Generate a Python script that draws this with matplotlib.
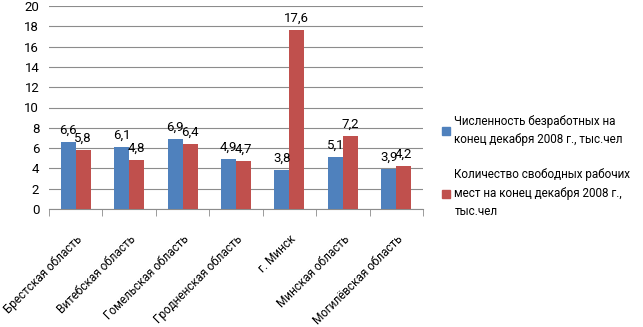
import matplotlib
matplotlib.use("Agg")
import matplotlib.pyplot as plt
import numpy as np
from matplotlib.patches import Rectangle

categories = ["Брестская область", "Витебская область", "Гомельская область",
              "Гродненская область", "г. Минск", "Минская область", "Могилёвская область"]
unemployed = [6.6, 6.1, 6.9, 4.9, 3.8, 5.1, 3.9]
vacancies = [5.8, 4.8, 6.4, 4.7, 17.6, 7.2, 4.2]
series_names = ["Численность безработных на\nконец декабря 2008 г., тыс.чел",
                "Количество свободных рабочих\nмест на конец декабря 2008 г.,\nтыс.чел"]
colors = ["#4F81BD", "#C0504D"]

plt.rcParams['font.family'] = ['Roboto', 'DejaVu Sans']

fig = plt.figure(figsize=(6.43, 3.27), dpi=100)
ax = fig.add_axes([49/643, 1-209/327, (423-49)/643, (209-6)/327])

x = np.arange(len(categories))
w = 0.28
b1 = ax.bar(x - w/2, unemployed, w, color=colors[0], zorder=3)
b2 = ax.bar(x + w/2, vacancies, w, color=colors[1], zorder=3)

for bars, vals in ((b1, unemployed), (b2, vacancies)):
    for r, v in zip(bars, vals):
        ax.annotate(f"{v:.1f}".replace(".", ","), (r.get_x() + r.get_width()/2, v),
                    xytext=(0, 4), textcoords="offset points", ha="center", va="bottom",
                    fontsize=9.5, color="#000000", zorder=4)

ax.set_xlim(-0.5, len(categories) - 0.5)
ax.set_ylim(0, 20)
ax.set_yticks(np.arange(0, 21, 2))
ax.yaxis.grid(True, color="#8c8c8c", linewidth=0.8, zorder=0)
ax.tick_params(axis="y", length=0, labelsize=9.5, pad=7)
for s in ("left", "right", "top"):
    ax.spines[s].set_visible(False)
ax.spines["bottom"].set_color("#8c8c8c")

ax.set_xticks(x)
ax.set_xticklabels(categories, rotation=45, ha="right", rotation_mode="anchor", fontsize=8.5)
ax.tick_params(axis="x", which="major", length=0, pad=17)
ax.set_xticks(np.arange(-0.5, len(categories), 1.0), minor=True)
ax.tick_params(axis="x", which="minor", length=5, color="#8c8c8c")

handles = [Rectangle((0, 0), 1, 1, color=c) for c in colors]
leg = fig.legend(handles, series_names, loc="upper left", bbox_to_anchor=(437/643, 1-110/327),
                 frameon=False, fontsize=8.4, handlelength=0.7, handleheight=0.7,
                 handletextpad=0.4, labelspacing=1.9, borderaxespad=0)
for t in leg.get_texts():
    t.set_linespacing(1.55)

fig.savefig("out.png", dpi=100)
